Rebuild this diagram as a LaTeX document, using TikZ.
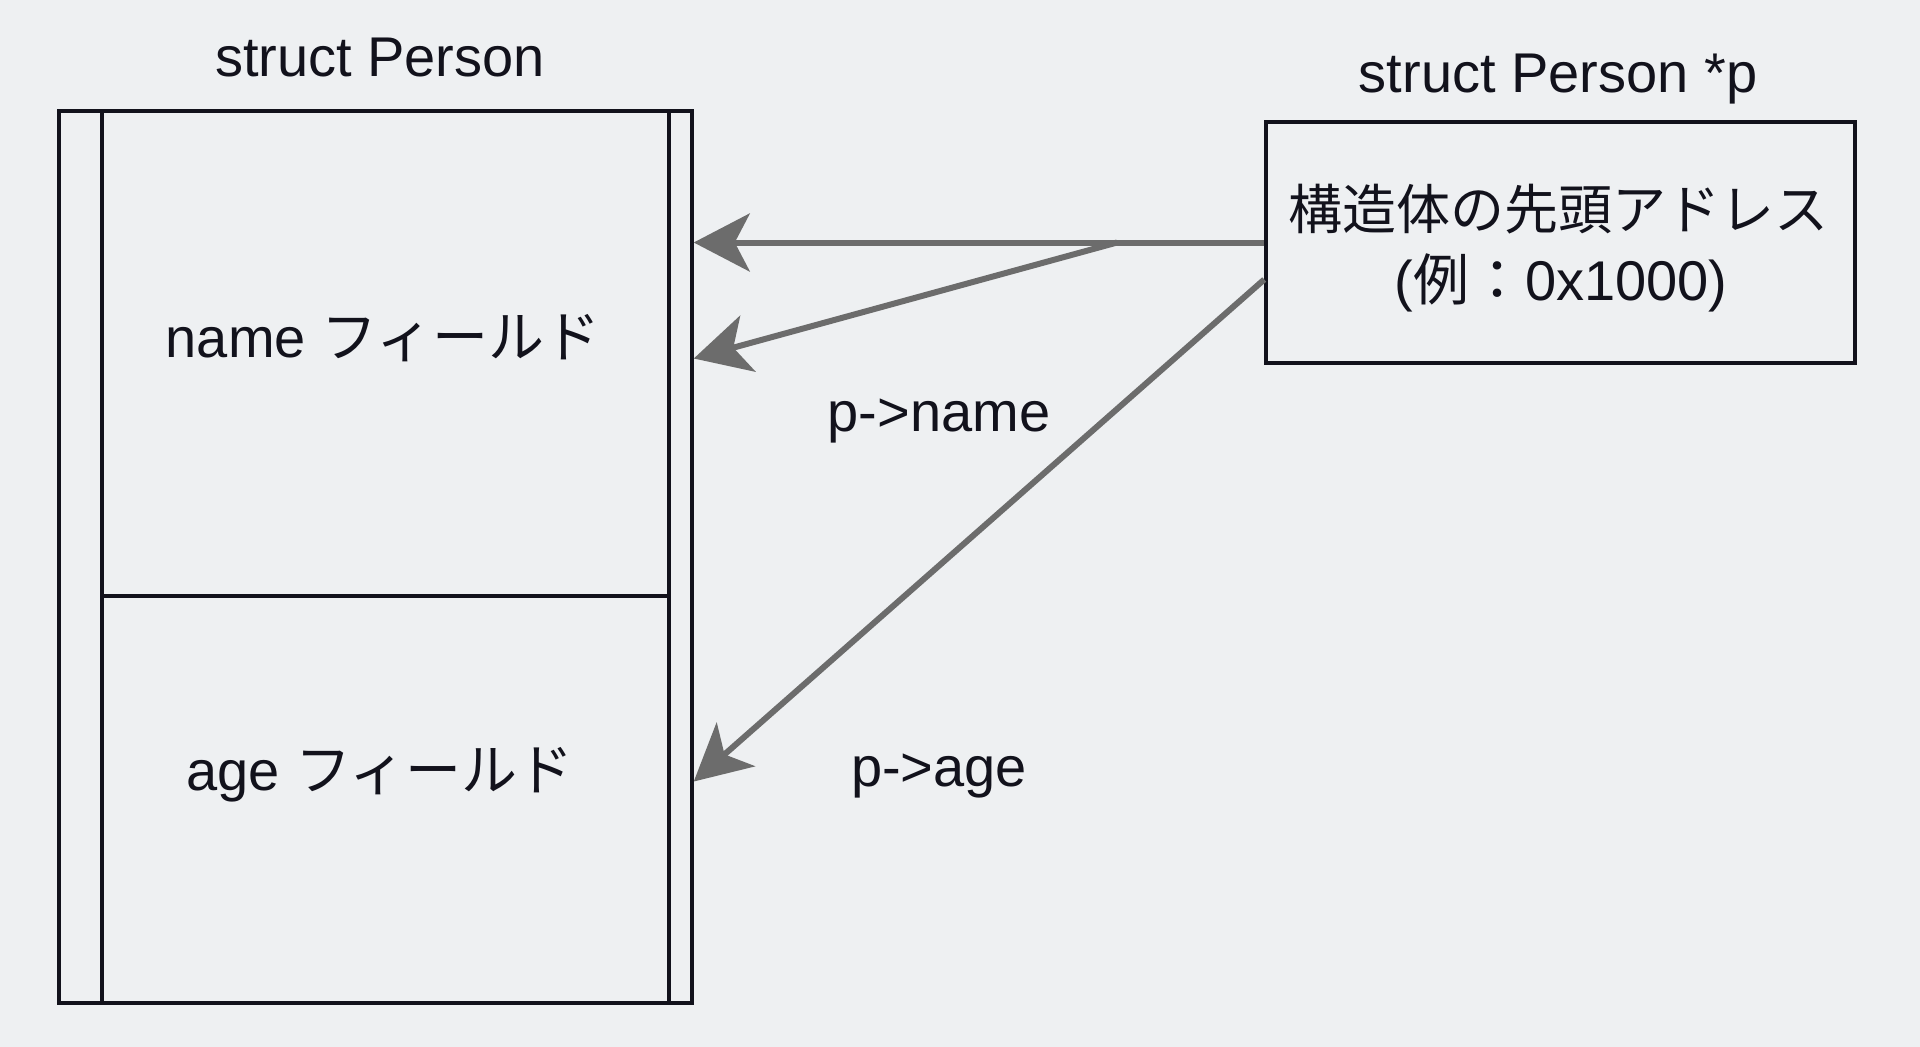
\documentclass[tikz,border=0pt]{standalone}
\usepackage{fontspec}
\setmainfont{Liberation Sans}
\newfontfamily\jp{Noto Sans CJK JP}
\usetikzlibrary{arrows.meta}
\definecolor{bg}{RGB}{238,240,242}
\definecolor{ink}{RGB}{18,18,28}
\definecolor{arrowgray}{RGB}{108,108,108}
\tikzset{
  box/.style={draw=ink, line width=3.5pt, inner sep=0pt},
  lbl/.style={font=\fontsize{56}{64}\selectfont, text=ink, inner sep=0pt, align=center},
  ptrarrow/.style={draw=arrowgray, line width=6pt, -{Stealth[length=56pt,width=58pt,inset=15pt]}}
}
\begin{document}
\begin{tikzpicture}[x=1pt,y=-1pt]
  \fill[bg] (0,0) rectangle (1920,1047);
  \useasboundingbox (0,0) rectangle (1920,1047);

  % left struct
  \node[lbl] (title) at (380,58) {struct Person};
  \node[box, minimum width=633pt, minimum height=892pt] (person) at (375.5,557) {};
  \node[box, minimum width=567pt, minimum height=485pt] (namefield) at (385.5,353.5) {};
  \node[box, minimum width=567pt, minimum height=407pt] (agefield) at (385.5,799.5) {};
  \node[lbl] (namelbl) at (383,338) {name {\jp フィールド}};
  \node[lbl] (agelbl) at (380,775) {age {\jp フィールド}};

  % pointer
  \node[lbl] (ptrtitle) at (1558,79) {struct Person *p};
  \node[box, minimum width=589pt, minimum height=241pt] (ptr) at (1560.5,242.5) {};
  \node[lbl, font=\fontsize{54}{62}\selectfont] (ptrl1) at (1558,209) {\jp 構造体の先頭アドレス};
  \node[lbl] (ptrl2) at (1561,283) {({\jp 例：}0x1000)};

  % labels
  \node[lbl] (pname) at (939,421) {p->name};
  \node[lbl] (page) at (939,776) {p->age};

  % connector points
  \coordinate (branch) at (1117,242.5);
  \coordinate (p3) at ([yshift=-37pt]ptr.west);
  \coordinate (e1) at (person.east |- ptr.west);
  \coordinate (e2) at ([yshift=-116pt]e1);
  \coordinate (e3) at ([yshift=-539pt]e1);

  \draw[ptrarrow] (ptr.west) -- (e1);
  \draw[ptrarrow] (branch) -- (e2);
  \draw[ptrarrow] (p3) -- (e3);
\end{tikzpicture}
\end{document}
